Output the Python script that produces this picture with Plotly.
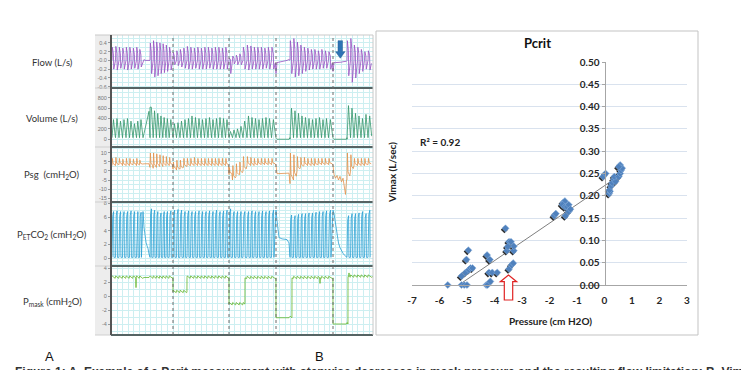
import numpy as np
import plotly.graph_objects as go

W, H = 741, 370

# ---------------- Panel A data (time in arbitrary units) ----------------
BREATH_T = [1, 4.5, 8, 11.5, 15, 18.5, 22, 25.5, 28.5,
            39, 42.2, 45.4, 48.6, 51.8, 55, 58.2,
            62, 65.5, 69, 72.5, 76, 79.5, 83, 86.5, 90, 93.5, 97, 100.5, 104, 107.5, 111, 114.5,
            118, 121.5, 125, 128.5, 132,
            136, 139.5, 143, 146.5, 150, 153.5, 157, 160.5,
            179, 182.5, 186, 189.5, 193, 196.5, 200, 203.5, 207, 210.5, 214, 217.5,
            236, 239.5, 243, 246.5, 250, 253.5, 257]

FLOW_HI = [0.30, 0.32, 0.30, 0.28, 0.30, 0.30, 0.28, 0.30, 0.25,
           0.40, 0.45, 0.42, 0.40, 0.38, 0.35, 0.30,
           0.18, 0.22, 0.25, 0.28, 0.32, 0.30, 0.28, 0.30, 0.28, 0.30, 0.30, 0.28, 0.30, 0.30, 0.28, 0.30,
           0.05, 0.10, 0.12, 0.15, 0.30,
           0.35, 0.33, 0.30, 0.30, 0.30, 0.28, 0.30, 0.30,
           0.45, 0.50, 0.42, 0.35, 0.30, 0.28, 0.25, 0.25, 0.22, 0.25, 0.22, 0.20,
           0.45, 0.50, 0.35, 0.30, 0.25, 0.20, 0.22]
FLOW_LO = [-0.20, -0.22, -0.18, -0.20, -0.22, -0.20, -0.18, -0.20, -0.15,
           -0.30, -0.38, -0.35, -0.30, -0.28, -0.25, -0.22,
           -0.10, -0.12, -0.15, -0.18, -0.20, -0.20, -0.18, -0.20, -0.20, -0.20, -0.18, -0.20, -0.20, -0.20, -0.20, -0.20,
           -0.30, -0.08, -0.10, -0.10, -0.20,
           -0.22, -0.20, -0.20, -0.20, -0.20, -0.18, -0.20, -0.20,
           -0.30, -0.38, -0.35, -0.30, -0.25, -0.22, -0.20, -0.20, -0.20, -0.18, -0.18, -0.20,
           -0.35, -0.50, -0.40, -0.30, -0.25, -0.20, -0.22]
VOL_PEAK = [380, 400, 350, 380, 400, 350, 300, 350, 380,
            620, 550, 500, 450, 420, 400, 380,
            300, 320, 350, 380, 400, 450, 420, 400, 380, 400, 420, 380, 400, 420, 400, 380,
            150, 180, 200, 250, 350,
            450, 420, 400, 380, 400, 420, 400, 380,
            600, 550, 500, 450, 420, 400, 380, 400, 420, 380, 400, 380,
            650, 600, 500, 450, 400, 480, 450]
VOL_BASE = 30
PSG_HI = [7, 7.5, 7, 6.5, 7, 7, 6.5, 7, 6,
          10, 10, 9.5, 9, 8.5, 8, 7.5,
          5, 6, 6, 7, 7, 7, 7.5, 7, 7, 7, 7, 7, 7, 7, 7, 7,
          2, 3, 4, 5, 8,
          8, 7.5, 7, 7, 7, 7, 7, 7,
          10, 9, 8, 7.5, 7.5, 7, 7, 7, 7, 7, 7, 7,
          10, 9, 7, 7, 7, 7, 7]
PSG_LO = [3, 3, 3.5, 3, 3, 3, 3.5, 3, 3.5,
          2, 1.5, 2, 2.5, 2.5, 3, 3,
          1, 0.5, 1, 2, 2.5, 3, 3, 3, 3, 3, 3, 3, 3, 3, 3, 3,
          -2, -5, -3, -2, 0,
          3, 3, 3, 3.5, 3.5, 3.5, 3.5, 3.5,
          -7, -5, 0, 2, 3, 3, 3, 3, 3.5, 3.5, 3.5, 3.5,
          -5, 0, 3, 3, 3, 3, 3.5]
CO2_PEAK = [6.8, 6.9, 6.8, 6.8, 6.8, 6.9, 6.8, 6.8, 6.7,
            7.2, 7.0, 6.8, 6.6, 6.8, 6.8, 6.9,
            7.0, 7.1, 7.0, 6.8, 6.9, 6.8, 6.8, 6.9, 6.8, 6.8, 6.9, 6.8, 7.0, 6.8, 6.9, 7.0,
            7.2, 6.8, 6.8, 6.8, 6.8,
            6.8, 6.9, 6.8, 6.8, 6.9, 6.8, 6.9, 7.0,
            6.3, 6.2, 6.4, 6.5, 6.5, 6.6, 6.6, 6.7, 6.8, 6.8, 6.9, 7.0,
            6.2, 6.5, 6.5, 6.6, 6.8, 6.5, 7.0]
CO2_BASE = 0.1

# pauses in breathing (apnoeas) and the values during them
FLAT_T = [[32, 33, 34, 35, 36, 37, 38, 39],
          [165, 166, 168, 171, 174, 176, 178, 179],
          [222, 223, 224.5, 226, 227.5, 229, 230.5, 232, 233.5, 234.5, 235.5, 236]]
FLAT_FLOW = [[0.0, 0.02, 0.0, 0.0, 0.0, 0.0, 0.0, 0.0],
             [-0.30, -0.05, -0.04, -0.03, -0.02, 0.0, 0.02, 0.0],
             [-0.25, -0.05, -0.05, -0.05, -0.04, -0.04, -0.04, -0.03, -0.03, -0.03, -0.02, 0.0]]
FLAT_VOL = [[30, 110, 200, 290, 380, 460, 540, 620],
            [20, 0, 0, 0, 0, 0, 0, 0],
            [20, 0, 0, 0, 0, 0, 0, 0, 0, 0, 0, 0]]
FLAT_PSG = [[4, 4.2, 4, 4, 4.2, 4, 4, 4],
            [3, -1.5, -1.5, -1.5, -1.5, -1.5, -1.2, 0],
            [3, -2, -4, -2.5, -5, -3, -6, -4, -9, -13, -5, -2]]
FLAT_CO2 = [[6.8, 4.5, 3.0, 2.3, 1.8, 1.4, 0.6, 0.2],
            [7.0, 5.5, 3.0, 2.8, 2.8, 2.7, 2.2, 0.2],
            [7.0, 6.5, 5.0, 3.5, 2.2, 1.5, 1.0, 0.7, 0.4, 0.3, 0.2, 0.1]]

PMASK_STEP_T = [0, 62, 76, 118, 134, 165, 181, 222, 237]
PMASK_LEVEL = [2.65, 0.6, 2.65, -1.15, 2.6, -3.1, 2.6, -4.0, 2.8]
PMASK_SPIKE_T = [25, 209, 238]
PMASK_SPIKE_V = [1.2, 1.8, 3.3]

DROP_T = [62, 118, 165, 222]          # dotted markers
PANEL_END = 262

ROW_LABELS = ["Flow (L/s)", "Volume (L/s)", "Psg  (cmH<sub>2</sub>O)",
              "P<sub>ET</sub>CO<sub>2</sub> (cmH<sub>2</sub>O)", "P<sub>mask</sub> (cmH<sub>2</sub>O)"]
ROW_TICKVALS = [[-0.6, -0.4, -0.2, 0, 0.2, 0.4], [0, 200, 400, 600, 800],
                [-15, -10, -5, 0, 5, 10], [0, 2, 4, 6, 8], [-4, -2, 0, 2, 4]]
ROW_TICKTEXT = [["-0.6", "-0.4", "-0.2", "-0.0", "0.2", "0.4"], ["0", "200", "400", "600", "800"],
                ["-15", "-10", "-5", "0", "5", "10"], ["0", "2", "4", "6", "8"], ["-4", "-2", "0", "2", "4"]]
ROW_RANGE = [[-0.63, 0.58], [-150, 990], [-17.2, 13.3], [-1.17, 8.2], [-5.57, 4.29]]
ROW_GRID = [0.1, 100, 2.5, 0.5, 1]
ROW_COLOR = ["#9550c0", "#35966a", "#e2904a", "#2aa0d4", "#62b52b"]

# ---------------- Panel B data ----------------
P_X = [-5.7, -5.2, -5.2, -5.1, -5.0, -5.02, -4.95, -5.05, -4.93, -4.87, -4.8,
       -4.3, -4.25, -4.27, -4.17, -4.2, -4.08, -4.15, -3.9,
       -3.6, -3.47, -3.4, -3.55, -3.3, -3.3, -3.52, -3.47, -3.38, -3.32,
       -1.83, -1.77, -1.5, -1.44, -1.53, -1.44, -1.36, -1.3, -1.42, -1.3, -1.24,
       0.17, 0.2, -0.05, 0.04, 0.18, 0.24, 0.28, 0.34, 0.4, 0.36,
       0.52, 0.57, 0.6, 0.57, 0.64, 0.52]
V_Y = [0.0, 0.02, 0.0, 0.0, 0.0, 0.057, 0.078, 0.028, 0.034, 0.038, 0.038,
       0.0, 0.0, 0.067, 0.057, 0.028, 0.028, 0.008, 0.028,
       0.127, 0.097, 0.097, 0.077, 0.077, 0.087, 0.086, 0.036, 0.045, 0.049,
       0.155, 0.16, 0.185, 0.188, 0.18, 0.175, 0.175, 0.18, 0.155, 0.165, 0.17,
       0.205, 0.21, 0.243, 0.25, 0.213, 0.222, 0.229, 0.237, 0.232, 0.243,
       0.243, 0.25, 0.257, 0.269, 0.262, 0.265]
FIT_SLOPE = 0.042
FIT_INTERCEPT = 0.2226
FIT_X = [-5.3, 0.45]
B_XTICKS = [-7, -6, -5, -4, -3, -2, -1, 0, 1, 2, 3]
B_YTICKS = [0.0, 0.05, 0.10, 0.15, 0.20, 0.25, 0.30, 0.35, 0.40, 0.45, 0.50]

# ---------------- helpers ----------------
def P(xpx):
    return xpx / W


def Q(ypx):
    return 1 - ypx / H


def breath_end(i):
    t0 = BREATH_T[i]
    nxt = BREATH_T[i + 1] if i + 1 < len(BREATH_T) else PANEL_END - 1
    for fs in [f[0] for f in FLAT_T]:
        if t0 < fs < nxt:
            nxt = fs
    return nxt


def build(template, flats):
    pts = []
    for i, t0 in enumerate(BREATH_T):
        d = breath_end(i) - t0
        for frac, v in template(i):
            pts.append((t0 + frac * d, v))
    for ft, fv in zip(FLAT_T, flats):
        pts.extend(zip(ft, fv))
    pts.sort(key=lambda p: p[0])
    return [p[0] for p in pts], [p[1] for p in pts]


def flow_tpl(i):
    hi, lo = FLOW_HI[i], FLOW_LO[i]
    return [(0, 0), (0.1, hi), (0.4, 0.5 * hi), (0.5, lo), (0.85, 0.3 * lo)]


def vol_tpl(i):
    pk = VOL_PEAK[i]
    return [(0, VOL_BASE), (0.42, pk), (0.92, VOL_BASE * 2)]


def psg_tpl(i):
    hi, lo = PSG_HI[i], PSG_LO[i]
    return [(0, lo), (0.12, hi), (0.3, lo + 0.3 * (hi - lo)), (0.8, lo + 0.15 * (hi - lo))]


def co2_tpl(i):
    pk = CO2_PEAK[i]
    return [(0, CO2_BASE), (0.2, 0.9 * pk), (0.45, pk), (0.55, CO2_BASE)]


def pmask_level(t):
    lvl = PMASK_LEVEL[0]
    for ts, lv in zip(PMASK_STEP_T, PMASK_LEVEL):
        if t >= ts:
            lvl = lv
    return lvl


def build_pmask():
    pts = [(0, pmask_level(0)), (PANEL_END, pmask_level(PANEL_END))]
    for i, t0 in enumerate(BREATH_T):
        d = breath_end(i) - t0
        for frac, dv in [(0.05, 0.22), (0.9, -0.12)]:
            t = t0 + frac * d
            pts.append((t, pmask_level(t) + dv))
    for ft in FLAT_T:
        for t in ft[1:-1]:
            pts.append((t, pmask_level(t)))
    for ts in PMASK_STEP_T[1:]:
        pts.append((ts - 0.05, pmask_level(ts - 0.05)))
        pts.append((ts, pmask_level(ts)))
    for ts, v in zip(PMASK_SPIKE_T, PMASK_SPIKE_V):
        pts.append((ts - 0.3, pmask_level(ts)))
        pts.append((ts, v))
        pts.append((ts + 0.3, pmask_level(ts)))
    pts.sort(key=lambda p: p[0])
    return [p[0] for p in pts], [p[1] for p in pts]


series = [build(flow_tpl, FLAT_FLOW), build(vol_tpl, FLAT_VOL),
          build(psg_tpl, FLAT_PSG), build(co2_tpl, FLAT_CO2), build_pmask()]

ROWS_PX = [(35, 88), (88, 147), (147, 202), (202, 266), (266, 335)]
AX_L, AX_R = 111, 373

fig = go.Figure()
layout = {}
shapes = []
annotations = []
GRID = "#cdeff1"

for r in range(5):
    n = r + 1
    xa = "x" if n == 1 else f"x{n}"
    ya = "y" if n == 1 else f"y{n}"
    xs, ys = series[r]
    fig.add_trace(go.Scatter(x=xs, y=ys, mode="lines", xaxis=xa, yaxis=ya,
                             line=dict(color=ROW_COLOR[r], width=0.8), showlegend=False,
                             hoverinfo="skip"))
    top, bot = ROWS_PX[r]
    layout["xaxis" if n == 1 else f"xaxis{n}"] = dict(
        domain=[P(AX_L), P(AX_R)], anchor=ya, range=[0, PANEL_END],
        showticklabels=False, ticks="", showgrid=True, gridcolor=GRID, gridwidth=1,
        tick0=6, dtick=5.6, zeroline=False, showline=False, automargin=False)
    layout["yaxis" if n == 1 else f"yaxis{n}"] = dict(
        domain=[Q(bot), Q(top)], anchor=xa, range=ROW_RANGE[r],
        tickvals=ROW_TICKVALS[r], ticktext=ROW_TICKTEXT[r],
        ticks="outside", ticklen=2, tickcolor="#9a9a9a", tickwidth=1,
        tickfont=dict(size=5.5, color="#777777", family="Liberation Sans"),
        showgrid=False, zeroline=False, showline=False, automargin=False,
        minor=dict(dtick=ROW_GRID[r], showgrid=True, gridcolor=GRID, gridwidth=1))
    annotations.append(dict(xref="paper", yref="paper", x=P(52), y=Q((top + bot) / 2 + 1),
                            text=ROW_LABELS[r], showarrow=False, xanchor="center", yanchor="middle",
                            font=dict(size=9.5, color="#333333", family="Lato")))

# grey tick strip and panel frame
shapes.append(dict(type="rect", xref="paper", yref="paper", x0=P(95), x1=P(AX_L), y0=Q(335), y1=Q(35),
                   fillcolor="#ededed", line=dict(width=0), layer="below"))
shapes.append(dict(type="line", xref="paper", yref="paper", x0=P(95), x1=P(AX_R), y0=Q(35), y1=Q(35),
                   line=dict(color="#c9c9c9", width=1)))
for yb in [88, 147, 202, 266, 335]:
    shapes.append(dict(type="line", xref="paper", yref="paper", x0=P(AX_L), x1=P(AX_R), y0=Q(yb), y1=Q(yb),
                       line=dict(color="#566464", width=2)))
    shapes.append(dict(type="line", xref="paper", yref="paper", x0=P(95), x1=P(AX_L), y0=Q(yb), y1=Q(yb),
                       line=dict(color="#cfcfcf", width=1)))
shapes.append(dict(type="line", xref="paper", yref="paper", x0=P(AX_L), x1=P(AX_L), y0=Q(335), y1=Q(35),
                   line=dict(color="#555555", width=2)))
shapes.append(dict(type="line", xref="paper", yref="paper", x0=P(AX_R), x1=P(AX_R), y0=Q(335), y1=Q(35),
                   line=dict(color="#c8c8c8", width=1)))
for td in DROP_T:
    shapes.append(dict(type="line", xref="x", yref="paper", x0=td, x1=td, y0=Q(335), y1=Q(35),
                       line=dict(color="#6a6a6a", width=1, dash="dot")))
# blue arrow over the flow trace
shapes.append(dict(type="path", xref="x", yref="y",
                   path="M 227,0.45 L 231.5,0.45 L 231.5,0.2 L 234,0.2 L 229.3,0.05 L 224.6,0.2 L 227,0.2 Z",
                   fillcolor="#2e74b5", line=dict(color="#245d92", width=0.5)))

# ---------------- Panel B ----------------
XB = "x6"
YB = "y6"
fit_y = [FIT_SLOPE * x + FIT_INTERCEPT for x in FIT_X]
fig.add_trace(go.Scatter(x=FIT_X, y=fit_y, mode="lines", xaxis=XB, yaxis=YB,
                         line=dict(color="#7f7f7f", width=1), showlegend=False, hoverinfo="skip"))
fig.add_trace(go.Scatter(x=[x - 0.04 for x in P_X], y=[y - 0.003 for y in V_Y], mode="markers",
                         xaxis=XB, yaxis=YB, cliponaxis=False,
                         marker=dict(symbol="diamond", size=5.5, color="#2b2b2b"),
                         showlegend=False, hoverinfo="skip"))
fig.add_trace(go.Scatter(x=P_X, y=V_Y, mode="markers", xaxis=XB, yaxis=YB, cliponaxis=False,
                         marker=dict(symbol="diamond", size=5.5, color="#4f81bd",
                                     line=dict(color="#8fb4e0", width=0.5)),
                         showlegend=False, hoverinfo="skip"))

BX0, BX1 = 412, 687
layout["xaxis6"] = dict(domain=[P(BX0), P(BX1)], anchor=YB, range=[-7, 3],
                        tickvals=B_XTICKS, ticktext=[str(v) for v in B_XTICKS],
                        tickfont=dict(size=10, color="#262626", family="Lato", weight="bold"),
                        ticks="", ticklabelstandoff=6, automargin=False,
                        showline=True, linecolor="#a6a6a6", linewidth=1,
                        showgrid=False, zeroline=False)
zero_px = BX0 + (0 - (-7)) / 10 * (BX1 - BX0)
layout["yaxis6"] = dict(domain=[Q(285), Q(62)], anchor="free", position=P(zero_px), side="left",
                        range=[0, 0.5], tickvals=B_YTICKS, ticktext=[f"{v:.2f}" for v in B_YTICKS],
                        tickfont=dict(size=10, color="#262626", family="Lato", weight="bold"),
                        ticks="outside", ticklen=3, tickcolor="#a6a6a6", automargin=False,
                        showline=True, linecolor="#a6a6a6", linewidth=1,
                        showgrid=True, gridcolor="#d9e2ee", gridwidth=1, zeroline=False)

shapes.append(dict(type="rect", xref="paper", yref="paper", x0=P(376), x1=P(698), y0=Q(335), y1=Q(31),
                   line=dict(color="#c3c3c3", width=1), fillcolor="rgba(0,0,0,0)", layer="below"))
# red outlined arrow (paper coordinates so that it is not clipped by the plot area)
RA = [(504.3, 300), (512.7, 300), (512.7, 281.7), (516.7, 281.7), (508.5, 275),
      (500.3, 281.7), (504.3, 281.7)]
shapes.append(dict(type="path", xref="paper", yref="paper",
                   path="M " + " L ".join(f"{P(a):.5f},{Q(b):.5f}" for a, b in RA) + " Z",
                   fillcolor="white", line=dict(color="#e02424", width=1.2)))

annotations += [
    dict(xref="paper", yref="paper", x=P(537), y=Q(43), text="<b>Pcrit</b>", showarrow=False,
         xanchor="center", yanchor="middle", font=dict(size=13, color="#111111", family="Lato")),
    dict(xref="paper", yref="paper", x=P(440), y=Q(142), text="<b>R² = 0.92</b>", showarrow=False,
         xanchor="center", yanchor="middle", font=dict(size=10, color="#222222", family="Lato")),
    dict(xref="paper", yref="paper", x=P(550), y=Q(321), text="<b>Pressure (cm H2O)</b>", showarrow=False,
         xanchor="center", yanchor="middle", font=dict(size=10, color="#222222", family="Lato")),
    dict(xref="paper", yref="paper", x=P(392), y=Q(173), text="<b>Vimax (L/sec)</b>", showarrow=False,
         xanchor="center", yanchor="middle",
         textangle=-90, font=dict(size=10, color="#222222", family="Lato")),
    dict(xref="paper", yref="paper", x=P(49), y=Q(356), text="A", showarrow=False,
         xanchor="center", yanchor="middle", font=dict(size=13, color="#111111", family="Liberation Sans")),
    dict(xref="paper", yref="paper", x=P(319), y=Q(356), text="B", showarrow=False,
         xanchor="center", yanchor="middle", font=dict(size=13, color="#111111", family="Liberation Sans")),
    dict(xref="paper", yref="paper", x=P(13), y=Q(372), xanchor="left", yanchor="middle",
         text="<b>Figure 1: A. Example of a Pcrit measurement with stepwise decreases in mask pressure "
              "and the resulting flow limitation; B. Vimax versus mask pressure</b>",
         showarrow=False, font=dict(size=12, color="#333333", family="Liberation Sans")),
]

fig.update_layout(width=W, height=H, margin=dict(l=0, r=0, t=0, b=0, autoexpand=False),
                  paper_bgcolor="white", plot_bgcolor="white",
                  shapes=shapes, annotations=annotations, showlegend=False, **layout)

fig.write_html("out.html", config={"displayModeBar": False},
               post_script="document.body.style.margin='0px';")
